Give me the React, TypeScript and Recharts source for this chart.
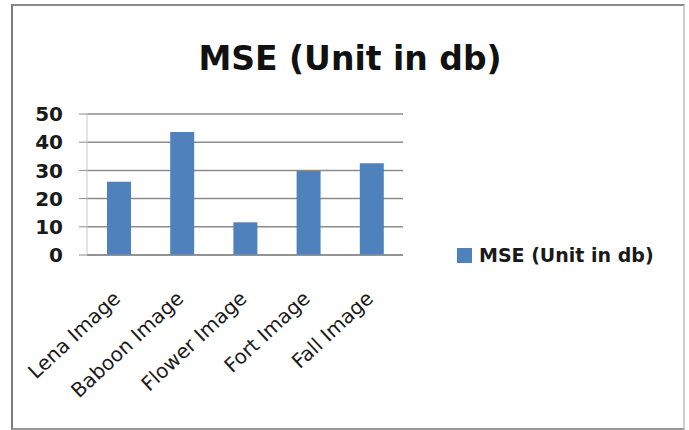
import React from "react";
import {
  BarChart,
  Bar,
  XAxis,
  YAxis,
  CartesianGrid,
  Legend,
} from "recharts";

const images = ["Lena Image", "Baboon Image", "Flower Image", "Fort Image", "Fall Image"];
const mseValues = [26.0, 43.6, 11.6, 29.8, 32.5];
const yTicks = [0, 10, 20, 30, 40, 50];
const edgeTicks = [0, 1, 2, 3, 4, 5];

const seriesName = "MSE (Unit in db)";
const barColor = "#4f81bd";
const font = "'DejaVu Sans', sans-serif";

const data = images.map((name, i) => ({ name, mse: mseValues[i] }));

function SlantTick(props: any) {
  const { x, y, payload } = props;
  return (
    <g transform={`translate(${x + 3},${y + 45})`}>
      <text
        textAnchor="end"
        transform="rotate(-43)"
        fontFamily={font}
        fontSize={20}
        fill="#1a1a1a"
      >
        {payload.value}
      </text>
    </g>
  );
}

function LegendBox() {
  return (
    <div style={{ display: "flex", alignItems: "center", fontFamily: font }}>
      <span
        style={{
          display: "inline-block",
          width: 15,
          height: 15,
          background: barColor,
          marginRight: 7,
        }}
      />
      <span style={{ fontSize: 19, fontWeight: "bold", lineHeight: "19px", color: "#1a1a1a" }}>
        {seriesName}
      </span>
    </div>
  );
}

export default function App() {
  return (
    <div
      style={{
        position: "absolute",
        left: 0,
        top: 0,
        width: 689,
        height: 430,
        background: "#fff",
      }}
    >
      <div
        style={{
          position: "absolute",
          left: 11,
          top: 4,
          width: 670,
          height: 422,
          borderStyle: "solid",
          borderWidth: 2,
          borderColor: "#8a8a8a #d0d0d0 #9a9a9a #7a7a7a",
        }}
      />
      <div
        style={{
          position: "absolute",
          left: 0,
          top: 42,
          width: 700,
          textAlign: "center",
          fontFamily: font,
          fontWeight: "bold",
          fontSize: 33,
          lineHeight: "33px",
          color: "#111",
        }}
      >
        {seriesName}
      </div>
      <BarChart
        width={689}
        height={430}
        data={data}
        margin={{ top: 114, right: 286, left: 0, bottom: 0 }}
        style={{ position: "absolute", left: 0, top: 0 }}
      >
        <CartesianGrid
          xAxisId="cat"
          horizontal
          vertical={false}
          stroke="#8c8c8c"
          strokeWidth={1.5}
        />
        {/* hidden numeric axis: tick marks on the category boundaries */}
        <XAxis
          xAxisId="edges"
          type="number"
          domain={[0, 5]}
          ticks={edgeTicks}
          tick={false}
          axisLine={false}
          tickSize={5}
          tickLine={{ stroke: "#8c8c8c" }}
          height={0}
        />
        <XAxis
          xAxisId="cat"
          dataKey="name"
          height={175}
          interval={0}
          tickLine={false}
          tickSize={0}
          tickMargin={0}
          axisLine={{ stroke: "#8c8c8c", strokeWidth: 1.5 }}
          tick={<SlantTick />}
        />
        <YAxis
          width={87}
          domain={[0, 50]}
          ticks={yTicks}
          interval={0}
          tickSize={8}
          tickMargin={16}
          axisLine={{ stroke: "#c8c8c8" }}
          tickLine={{ stroke: "#8c8c8c" }}
          tick={{ fontFamily: font, fontSize: 20, fontWeight: "bold", fill: "#1a1a1a" }}
        />
        <Legend
          layout="vertical"
          align="center"
          verticalAlign="middle"
          content={<LegendBox />}
          wrapperStyle={{ left: 457, top: 246, width: 230 }}
        />
        <Bar
          xAxisId="cat"
          dataKey="mse"
          name={seriesName}
          fill={barColor}
          barSize={24}
          isAnimationActive={false}
        />
      </BarChart>
    </div>
  );
}
